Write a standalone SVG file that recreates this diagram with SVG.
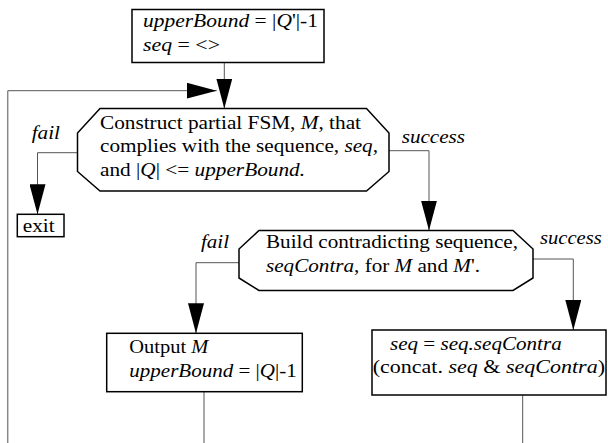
<svg xmlns="http://www.w3.org/2000/svg" width="608" height="443" viewBox="0 0 608 443" font-family="Liberation Serif, Times New Roman, Times, DejaVu Serif, serif">
<style>
text{font-size:18.5px;fill:#000}
.i{font-style:italic}
.box{fill:#fff;stroke:#000;stroke-width:1.5}
.oct{fill:#fff;stroke:#000;stroke-width:1.5}
.con{fill:none;stroke:#555;stroke-width:1}
</style>
<defs>
<marker id="ah" viewBox="0 0 30 16" refX="30" refY="8" markerWidth="30" markerHeight="16" markerUnits="userSpaceOnUse" orient="auto">
<path d="M0,0 L30,8 L0,16 Z" fill="#000"/>
</marker>
</defs>
<rect width="608" height="443" fill="#fff"/>
<g id="connectors">
<line class="con" x1="224.3" y1="62.7" x2="224.3" y2="108.5" marker-end="url(#ah)"/>
<polyline class="con" points="7.8,443 7.8,90.7 216.7,90.7" marker-end="url(#ah)"/>
<polyline class="con" points="77.5,152.7 37.5,152.7 37.5,214.3" marker-end="url(#ah)"/>
<polyline class="con" points="389,150.7 429,150.7 429,230.5" marker-end="url(#ah)"/>
<polyline class="con" points="239,262.7 196,262.7 196,333.3" marker-end="url(#ah)"/>
<polyline class="con" points="533,259 573.3,259 573.3,330" marker-end="url(#ah)"/>
<line class="con" x1="204" y1="391.7" x2="204" y2="443"/>
<line class="con" x1="522.7" y1="395" x2="522.7" y2="443"/>
</g>
<g id="init" font-family="Liberation Serif, serif">
<rect class="box" x="132" y="9.5" width="192" height="53"/>
<text x="143" y="27" textLength="175" lengthAdjust="spacingAndGlyphs"><tspan class="i">upperBound</tspan> = |<tspan class="i">Q</tspan>'|-1</text>
<text x="143" y="51" textLength="77" lengthAdjust="spacingAndGlyphs"><tspan class="i">seq</tspan> = &lt;&gt;</text>
</g>
<g id="construct" font-family="Liberation Serif, serif">
<polygon class="oct" points="100,108.5 366.5,108.5 389,133 389,171.5 366.5,191 100,191 77.5,171.5 77.5,133"/>
<text x="100" y="129" textLength="261" lengthAdjust="spacingAndGlyphs">Construct partial FSM, <tspan class="i">M</tspan>, that</text>
<text x="100" y="152.3" textLength="278" lengthAdjust="spacingAndGlyphs">complies with the sequence, <tspan class="i">seq,</tspan></text>
<text x="100" y="175.5" textLength="205" lengthAdjust="spacingAndGlyphs">and |<tspan class="i">Q</tspan>| &lt;= <tspan class="i">upperBound.</tspan></text>
</g>
<g id="exit" font-family="Liberation Serif, serif">
<rect class="box" x="17.3" y="214.3" width="46.7" height="22.4"/>
<text x="22.7" y="232.3" textLength="32" lengthAdjust="spacingAndGlyphs">exit</text>
</g>
<g id="build" font-family="Liberation Serif, serif">
<polygon class="oct" points="259,230.5 513,230.5 533,249 533,278 513,290.5 259,290.5 239,278 239,249"/>
<text x="266" y="248.3" textLength="252" lengthAdjust="spacingAndGlyphs">Build contradicting sequence,</text>
<text x="266" y="271.7" textLength="214" lengthAdjust="spacingAndGlyphs"><tspan class="i">seqContra</tspan>, for <tspan class="i">M</tspan> and <tspan class="i">M</tspan>'.</text>
</g>
<g id="output" font-family="Liberation Serif, serif">
<rect class="box" x="106.7" y="333.3" width="195.6" height="58.4"/>
<text x="129.3" y="353.3" textLength="79" lengthAdjust="spacingAndGlyphs">Output <tspan class="i">M</tspan></text>
<text x="129.3" y="376.7" textLength="167.4" lengthAdjust="spacingAndGlyphs"><tspan class="i">upperBound</tspan> = |<tspan class="i">Q</tspan>|-1</text>
</g>
<g id="concat" font-family="Liberation Serif, serif">
<rect class="box" x="372" y="330" width="234" height="65"/>
<text x="390" y="350" textLength="171.7" lengthAdjust="spacingAndGlyphs"><tspan class="i">seq</tspan> = <tspan class="i">seq.seqContra</tspan></text>
<text x="372.7" y="373.3" textLength="232.3" lengthAdjust="spacingAndGlyphs">(concat. <tspan class="i">seq</tspan> &amp; <tspan class="i">seqContra</tspan>)</text>
</g>
<g id="labels" font-family="Liberation Serif, serif">
<text class="i" x="31.7" y="139" textLength="28.3" lengthAdjust="spacingAndGlyphs">fail</text>
<text class="i" x="401.7" y="142.7" textLength="63.3" lengthAdjust="spacingAndGlyphs">success</text>
<text class="i" x="201" y="248.3" textLength="28" lengthAdjust="spacingAndGlyphs">fail</text>
<text class="i" x="540" y="244.3" textLength="61.7" lengthAdjust="spacingAndGlyphs">success</text>
</g>
</svg>
